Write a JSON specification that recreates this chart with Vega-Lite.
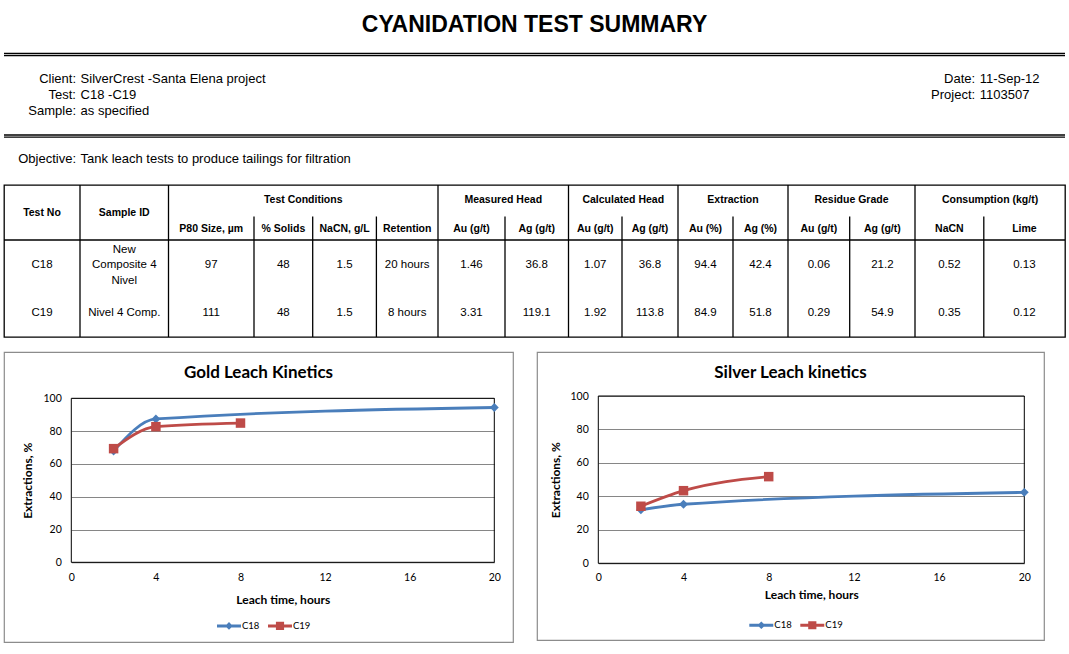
{
  "$schema": "https://vega.github.io/schema/vega-lite/v6.json",
  "padding": {"left": 2, "top": 0, "right": 0, "bottom": 0},
  "background": "#ffffff",
  "config": {"view": {"stroke": null}, "font": "Liberation Sans"},
  "resolve": {"scale": {"color": "independent"}, "legend": {"color": "independent"}},
  "datasets": {
    "docTitle": [{"text": "CYANIDATION TEST SUMMARY"}],
    "headerInfo": [
      {"side": "left", "line": 1, "label": "Client:", "value": "SilverCrest -Santa Elena project"},
      {"side": "left", "line": 2, "label": "Test:", "value": "C18 -C19"},
      {"side": "left", "line": 3, "label": "Sample:", "value": "as specified"},
      {"side": "right", "line": 1, "label": "Date:", "value": "11-Sep-12"},
      {"side": "right", "line": 2, "label": "Project:", "value": "1103507"},
      {"side": "left", "line": 6, "label": "Objective:", "value": "Tank leach tests to produce tailings for filtration"}
    ],
    "groups": [
      {"g": 0, "row": 0.5, "label": "Test No"},
      {"g": 1, "row": 0.5, "label": "Sample ID"},
      {"g": 2, "row": 0, "label": "Test Conditions"},
      {"g": 3, "row": 0, "label": "Measured Head"},
      {"g": 4, "row": 0, "label": "Calculated Head"},
      {"g": 5, "row": 0, "label": "Extraction"},
      {"g": 6, "row": 0, "label": "Residue Grade"},
      {"g": 7, "row": 0, "label": "Consumption (kg/t)"}
    ],
    "subheads": [
      {"col": 2, "row": 1, "label": "P80 Size, µm"},
      {"col": 3, "row": 1, "label": "% Solids"},
      {"col": 4, "row": 1, "label": "NaCN, g/L"},
      {"col": 5, "row": 1, "label": "Retention"},
      {"col": 6, "row": 1, "label": "Au (g/t)"},
      {"col": 7, "row": 1, "label": "Ag (g/t)"},
      {"col": 8, "row": 1, "label": "Au (g/t)"},
      {"col": 9, "row": 1, "label": "Ag (g/t)"},
      {"col": 10, "row": 1, "label": "Au (%)"},
      {"col": 11, "row": 1, "label": "Ag (%)"},
      {"col": 12, "row": 1, "label": "Au (g/t)"},
      {"col": 13, "row": 1, "label": "Ag (g/t)"},
      {"col": 14, "row": 1, "label": "NaCN"},
      {"col": 15, "row": 1, "label": "Lime"}
    ],
    "cells": [
      {"test": "C18", "row": 2, "col": 0, "v": "C18"},
      {"test": "C18", "row": 2, "col": 1, "v": "New\nComposite 4\nNivel"},
      {"test": "C18", "row": 2, "col": 2, "v": "97"},
      {"test": "C18", "row": 2, "col": 3, "v": "48"},
      {"test": "C18", "row": 2, "col": 4, "v": "1.5"},
      {"test": "C18", "row": 2, "col": 5, "v": "20 hours"},
      {"test": "C18", "row": 2, "col": 6, "v": "1.46"},
      {"test": "C18", "row": 2, "col": 7, "v": "36.8"},
      {"test": "C18", "row": 2, "col": 8, "v": "1.07"},
      {"test": "C18", "row": 2, "col": 9, "v": "36.8"},
      {"test": "C18", "row": 2, "col": 10, "v": "94.4"},
      {"test": "C18", "row": 2, "col": 11, "v": "42.4"},
      {"test": "C18", "row": 2, "col": 12, "v": "0.06"},
      {"test": "C18", "row": 2, "col": 13, "v": "21.2"},
      {"test": "C18", "row": 2, "col": 14, "v": "0.52"},
      {"test": "C18", "row": 2, "col": 15, "v": "0.13"},
      {"test": "C19", "row": 3, "col": 0, "v": "C19"},
      {"test": "C19", "row": 3, "col": 1, "v": "Nivel 4 Comp."},
      {"test": "C19", "row": 3, "col": 2, "v": "111"},
      {"test": "C19", "row": 3, "col": 3, "v": "48"},
      {"test": "C19", "row": 3, "col": 4, "v": "1.5"},
      {"test": "C19", "row": 3, "col": 5, "v": "8 hours"},
      {"test": "C19", "row": 3, "col": 6, "v": "3.31"},
      {"test": "C19", "row": 3, "col": 7, "v": "119.1"},
      {"test": "C19", "row": 3, "col": 8, "v": "1.92"},
      {"test": "C19", "row": 3, "col": 9, "v": "113.8"},
      {"test": "C19", "row": 3, "col": 10, "v": "84.9"},
      {"test": "C19", "row": 3, "col": 11, "v": "51.8"},
      {"test": "C19", "row": 3, "col": 12, "v": "0.29"},
      {"test": "C19", "row": 3, "col": 13, "v": "54.9"},
      {"test": "C19", "row": 3, "col": 14, "v": "0.35"},
      {"test": "C19", "row": 3, "col": 15, "v": "0.12"}
    ],
    "gold": [
      {"test": "C18", "t": 2, "e": 67.9},
      {"test": "C18", "t": 4, "e": 87.4},
      {"test": "C18", "t": 20, "e": 94.4},
      {"test": "C19", "t": 2, "e": 69.3},
      {"test": "C19", "t": 4, "e": 82.7},
      {"test": "C19", "t": 8, "e": 84.9}
    ],
    "silver": [
      {"test": "C18", "t": 2, "e": 32.0},
      {"test": "C18", "t": 4, "e": 35.3},
      {"test": "C18", "t": 20, "e": 42.4},
      {"test": "C19", "t": 2, "e": 34.1},
      {"test": "C19", "t": 4, "e": 43.4},
      {"test": "C19", "t": 8, "e": 51.8}
    ]
  },
  "vconcat": [
    {
      "spacing": 0,
      "vconcat": [
        {
          "width": 1061,
          "height": 183,
          "view": {"stroke": null},
          "layer": [
            {
              "data": {"name": "docTitle"},
              "mark": {"type": "text", "font": "Liberation Sans", "fontSize": 23, "fontWeight": "bold", "baseline": "middle", "color": "#000"},
              "encoding": {
                "y": {"datum": -2.4, "type": "quantitative", "scale": {"domain": [-3.9375, 7.5], "reverse": true, "nice": false, "zero": false}, "axis": null},
                "text": {"field": "text", "type": "nominal"}
              }
            },
            {
              "data": {"values": [{}]},
              "mark": {"type": "rule", "color": "#000", "strokeWidth": 1.3},
              "encoding": {"y": {"datum": -0.606, "type": "quantitative", "scale": {"domain": [-3.9375, 7.5], "reverse": true, "nice": false, "zero": false}, "axis": null}}
            },
            {
              "data": {"values": [{}]},
              "mark": {"type": "rule", "color": "#000", "strokeWidth": 1.3},
              "encoding": {"y": {"datum": -0.469, "type": "quantitative", "scale": {"domain": [-3.9375, 7.5], "reverse": true, "nice": false, "zero": false}, "axis": null}}
            },
            {
              "data": {"values": [{}]},
              "mark": {"type": "rule", "color": "#000", "strokeWidth": 1.3},
              "encoding": {"y": {"datum": 4.5, "type": "quantitative", "scale": {"domain": [-3.9375, 7.5], "reverse": true, "nice": false, "zero": false}, "axis": null}}
            },
            {
              "data": {"values": [{}]},
              "mark": {"type": "rule", "color": "#000", "strokeWidth": 1.3},
              "encoding": {"y": {"datum": 4.6375, "type": "quantitative", "scale": {"domain": [-3.9375, 7.5], "reverse": true, "nice": false, "zero": false}, "axis": null}}
            },
            {
              "data": {"name": "headerInfo"},
              "mark": {"type": "text", "align": "right", "dx": -2.3, "baseline": "middle", "font": "Liberation Sans", "fontSize": 13, "color": "#000"},
              "encoding": {
                "x": {"field": "side", "type": "nominal", "scale": {"type": "point", "domain": ["left", "right"], "range": [74.3, 973.5], "padding": 0}, "axis": null},
                "y": {"field": "line", "type": "quantitative", "scale": {"domain": [-3.9375, 7.5], "reverse": true, "nice": false, "zero": false}, "axis": null},
                "text": {"field": "label", "type": "nominal"}
              }
            },
            {
              "data": {"name": "headerInfo"},
              "mark": {"type": "text", "align": "left", "dx": 2.3, "baseline": "middle", "font": "Liberation Sans", "fontSize": 13, "color": "#000"},
              "encoding": {
                "x": {"field": "side", "type": "nominal", "scale": {"type": "point", "domain": ["left", "right"], "range": [74.3, 973.5], "padding": 0}, "axis": null},
                "y": {"field": "line", "type": "quantitative", "scale": {"domain": [-3.9375, 7.5], "reverse": true, "nice": false, "zero": false}, "axis": null},
                "text": {"field": "value", "type": "nominal"}
              }
            }
          ]
        },
        {
          "width": 1061,
          "height": 152,
          "view": {"stroke": "#000", "strokeWidth": 1.3},
          "resolve": {"scale": {"x": "independent"}, "axis": {"x": "independent"}},
          "layer": [
            {
              "data": {"name": "groups"},
              "mark": {"type": "text", "font": "Liberation Sans", "fontSize": 10.5, "fontWeight": "bold", "baseline": "middle", "color": "#000"},
              "encoding": {
                "x": {"field": "g", "type": "quantitative", "scale": {"domain": [0, 1, 2, 3, 4, 5, 6, 7], "range": [38, 120.25, 299.25, 499.25, 619.25, 729, 847.5, 986], "nice": false, "zero": false}, "axis": null},
                "y": {"field": "row", "type": "quantitative", "scale": {"domain": [0, 0.5, 1, 2, 3], "range": [15, 27.7, 43.5, 80, 128], "nice": false, "zero": false}, "axis": null},
                "text": {"field": "label", "type": "nominal"}
              }
            },
            {
              "data": {"name": "subheads"},
              "mark": {"type": "text", "font": "Liberation Sans", "fontSize": 10.5, "fontWeight": "bold", "baseline": "middle", "color": "#000"},
              "encoding": {
                "x": {"field": "col", "type": "quantitative", "scale": {"domain": [0, 1, 2, 3, 4, 5, 6, 7, 8, 9, 10, 11, 12, 13, 14, 15], "range": [38, 120.25, 207.25, 279.35, 340.55, 403.2, 467.5, 532.75, 591.25, 646, 701.5, 756.5, 814.85, 878.35, 945.4, 1020.4], "nice": false, "zero": false}, "axis": null},
                "y": {"field": "row", "type": "quantitative", "scale": {"domain": [0, 0.5, 1, 2, 3], "range": [15, 27.7, 43.5, 80, 128], "nice": false, "zero": false}, "axis": null},
                "text": {"field": "label", "type": "nominal"}
              }
            },
            {
              "data": {"name": "cells"},
              "transform": [{"filter": "indexof(datum.v, '\\n') < 0"}],
              "mark": {"type": "text", "font": "Liberation Sans", "fontSize": 11.5, "baseline": "middle", "color": "#000"},
              "encoding": {
                "x": {"field": "col", "type": "quantitative", "scale": {"domain": [0, 1, 2, 3, 4, 5, 6, 7, 8, 9, 10, 11, 12, 13, 14, 15], "range": [38, 120.25, 207.25, 279.35, 340.55, 403.2, 467.5, 532.75, 591.25, 646, 701.5, 756.5, 814.85, 878.35, 945.4, 1020.4], "nice": false, "zero": false}, "axis": null},
                "y": {"field": "row", "type": "quantitative", "scale": {"domain": [0, 0.5, 1, 2, 3], "range": [15, 27.7, 43.5, 80, 128], "nice": false, "zero": false}, "axis": null},
                "text": {"field": "v", "type": "nominal"}
              }
            },
            {
              "data": {"name": "cells"},
              "transform": [{"filter": "indexof(datum.v, '\\n') >= 0"}],
              "mark": {"type": "text", "font": "Liberation Sans", "fontSize": 11.5, "baseline": "middle", "lineBreak": "\n", "lineHeight": 15.5, "dy": -15.5, "color": "#000"},
              "encoding": {
                "x": {"field": "col", "type": "quantitative", "scale": {"domain": [0, 1, 2, 3, 4, 5, 6, 7, 8, 9, 10, 11, 12, 13, 14, 15], "range": [38, 120.25, 207.25, 279.35, 340.55, 403.2, 467.5, 532.75, 591.25, 646, 701.5, 756.5, 814.85, 878.35, 945.4, 1020.4], "nice": false, "zero": false}, "axis": null},
                "y": {"field": "row", "type": "quantitative", "scale": {"domain": [0, 0.5, 1, 2, 3], "range": [15, 27.7, 43.5, 80, 128], "nice": false, "zero": false}, "axis": null},
                "text": {"field": "v", "type": "nominal"}
              }
            },
            {
              "data": {"name": "groups"},
              "transform": [{"filter": "datum.g >= 1"}],
              "mark": {"type": "rule", "color": "#000", "strokeWidth": 1.3},
              "encoding": {
                "x": {"field": "g", "type": "quantitative", "scale": {"domain": [1, 2, 3, 4, 5, 6, 7], "range": [76, 164.5, 434, 564.5, 674, 784, 911], "nice": false, "zero": false}, "axis": null},
                "y": {"datum": -0.59, "type": "quantitative", "scale": {"domain": [0, 0.5, 1, 2, 3], "range": [15, 27.7, 43.5, 80, 128], "nice": false, "zero": false}, "axis": null},
                "y2": {"datum": 3.5}
              }
            },
            {
              "data": {"name": "subheads"},
              "transform": [{"filter": {"field": "col", "oneOf": [3, 4, 5, 7, 9, 11, 13, 15]}}],
              "mark": {"type": "rule", "color": "#000", "strokeWidth": 1.3},
              "encoding": {
                "x": {"field": "col", "type": "quantitative", "scale": {"domain": [3, 4, 5, 7, 9, 11, 13, 15], "range": [250, 308.7, 372.4, 501, 618, 729, 845.7, 979.8], "nice": false, "zero": false}, "axis": null},
                "y": {"datum": 0.62, "type": "quantitative", "scale": {"domain": [0, 0.5, 1, 2, 3], "range": [15, 27.7, 43.5, 80, 128], "nice": false, "zero": false}, "axis": null},
                "y2": {"datum": 3.5}
              }
            },
            {
              "data": {"values": [{}]},
              "mark": {"type": "rule", "color": "#000", "strokeWidth": 1.3},
              "encoding": {
                "y": {"datum": 1.315, "type": "quantitative", "scale": {"domain": [0, 0.5, 1, 2, 3], "range": [15, 27.7, 43.5, 80, 128], "nice": false, "zero": false}, "axis": null}
              }
            }
          ]
        }
      ]
    },
    {
      "spacing": 22,
      "resolve": {"scale": {"color": "independent"}, "legend": {"color": "independent"}},
      "hconcat": [
        {
          "width": 509,
          "height": 290,
          "view": {"stroke": "#8C8C8C", "strokeWidth": 1.2},
          "title": {"text": "Gold Leach Kinetics", "font": "Lato", "fontSize": 17, "fontWeight": "bold", "color": "#000", "anchor": "middle", "offset": -30},
          "layer": [
            {
              "data": {"values": [{}]},
              "mark": {"type": "rect", "filled": false, "color": "#000", "strokeWidth": 1},
              "encoding": {
                "x": {"datum": 0, "type": "quantitative", "scale": {"domain": [0, 20], "range": [67.3, 490.3], "nice": false, "zero": false},
                  "axis": {"values": [0, 4, 8, 12, 16, 20], "title": "Leach time, hours", "offset": -79.7, "grid": false, "ticks": false, "domain": true, "domainColor": "#868686", "labelFont": "Lato", "labelFontSize": 10.5, "labelColor": "#000", "labelPadding": 10, "labelFlush": false, "titleFont": "Lato", "titleFontSize": 12, "titleFontWeight": "bold", "titleColor": "#000", "titlePadding": 12}},
                "x2": {"datum": 20},
                "y": {"datum": 0, "type": "quantitative", "scale": {"domain": [0, 100], "range": [210.3, 46.3], "nice": false, "zero": false},
                  "axis": {"values": [0, 20, 40, 60, 80, 100], "title": "Extractions, %", "offset": -67.3, "grid": true, "gridColor": "#868686", "gridWidth": 1, "domain": false, "ticks": false, "labelFont": "Lato", "labelFontSize": 10.5, "labelColor": "#000", "labelPadding": 10, "titleFont": "Lato", "titleFontSize": 12, "titleFontWeight": "bold", "titleColor": "#000", "titlePadding": 9}},
                "y2": {"datum": 100}
              }
            },
            {
              "data": {"name": "gold"},
              "encoding": {
                "x": {"field": "t", "type": "quantitative", "scale": {"domain": [0, 20], "range": [67.3, 490.3], "nice": false, "zero": false},
                  "axis": {"values": [0, 4, 8, 12, 16, 20], "title": "Leach time, hours", "offset": -79.7, "grid": false, "ticks": false, "domain": true, "domainColor": "#868686", "labelFont": "Lato", "labelFontSize": 10.5, "labelColor": "#000", "labelPadding": 10, "labelFlush": false, "titleFont": "Lato", "titleFontSize": 12, "titleFontWeight": "bold", "titleColor": "#000", "titlePadding": 12}},
                "y": {"field": "e", "type": "quantitative", "scale": {"domain": [0, 100], "range": [210.3, 46.3], "nice": false, "zero": false},
                  "axis": {"values": [0, 20, 40, 60, 80, 100], "title": "Extractions, %", "offset": -67.3, "grid": true, "gridColor": "#868686", "gridWidth": 1, "domain": false, "ticks": false, "labelFont": "Lato", "labelFontSize": 10.5, "labelColor": "#000", "labelPadding": 10, "titleFont": "Lato", "titleFontSize": 12, "titleFontWeight": "bold", "titleColor": "#000", "titlePadding": 9}},
                "color": {"field": "test", "type": "nominal", "scale": {"domain": ["C18", "C19"], "range": ["#4A7EBB", "#BE4B48"]},
                  "legend": {"orient": "none", "legendX": 213, "legendY": 261.7, "direction": "horizontal", "title": null, "labelFont": "Lato", "labelFontSize": 9.5, "labelColor": "#000", "labelOffset": 1, "columnPadding": 8, "symbolSize": 576,
                    "encode": {"symbols": {"update": {
                      "shape": {"signal": "datum.value === 'C18' ? 'M-1,-0.12H1V0.12H-1Z M0,-0.32L0.32,0L0,0.32L-0.32,0Z' : 'M-1,-0.12H1V0.12H-1Z M-0.34,-0.34H0.34V0.34H-0.34Z'"},
                      "fill": {"signal": "datum.value === 'C18' ? '#4A7EBB' : '#BE4B48'"},
                      "stroke": {"value": "transparent"},
                      "strokeWidth": {"value": 0},
                      "opacity": {"value": 1},
                      "size": {"value": 576}
                    }}}}}
              },
              "layer": [
                {"mark": {"type": "line", "interpolate": "monotone", "strokeWidth": 2.8}},
                {"transform": [{"filter": "datum.test === 'C18'"}], "mark": {"type": "point", "shape": "diamond", "filled": true, "opacity": 1, "size": 80}},
                {"transform": [{"filter": "datum.test === 'C19'"}], "mark": {"type": "point", "shape": "square", "filled": true, "opacity": 1, "size": 90}}
              ]
            }
          ]
        },
        {
          "width": 507,
          "height": 288,
          "view": {"stroke": "#8C8C8C", "strokeWidth": 1.2},
          "title": {"text": "Silver Leach kinetics", "font": "Lato", "fontSize": 17, "fontWeight": "bold", "color": "#000", "anchor": "middle", "offset": -30},
          "layer": [
            {
              "data": {"values": [{}]},
              "mark": {"type": "rect", "filled": false, "color": "#000", "strokeWidth": 1},
              "encoding": {
                "x": {"datum": 0, "type": "quantitative", "scale": {"domain": [0, 20], "range": [61.3, 487.3], "nice": false, "zero": false},
                  "axis": {"values": [0, 4, 8, 12, 16, 20], "title": "Leach time, hours", "offset": -76.7, "grid": false, "ticks": false, "domain": true, "domainColor": "#868686", "labelFont": "Lato", "labelFontSize": 10.5, "labelColor": "#000", "labelPadding": 9, "labelFlush": false, "titleFont": "Lato", "titleFontSize": 12, "titleFontWeight": "bold", "titleColor": "#000", "titlePadding": 7}},
                "x2": {"datum": 20},
                "y": {"datum": 0, "type": "quantitative", "scale": {"domain": [0, 100], "range": [211.3, 44], "nice": false, "zero": false},
                  "axis": {"values": [0, 20, 40, 60, 80, 100], "title": "Extractions, %", "offset": -61.3, "grid": true, "gridColor": "#868686", "gridWidth": 1, "domain": false, "ticks": false, "labelFont": "Lato", "labelFontSize": 10.5, "labelColor": "#000", "labelPadding": 10, "titleFont": "Lato", "titleFontSize": 12, "titleFontWeight": "bold", "titleColor": "#000", "titlePadding": 8}},
                "y2": {"datum": 100}
              }
            },
            {
              "data": {"name": "silver"},
              "encoding": {
                "x": {"field": "t", "type": "quantitative", "scale": {"domain": [0, 20], "range": [61.3, 487.3], "nice": false, "zero": false},
                  "axis": {"values": [0, 4, 8, 12, 16, 20], "title": "Leach time, hours", "offset": -76.7, "grid": false, "ticks": false, "domain": true, "domainColor": "#868686", "labelFont": "Lato", "labelFontSize": 10.5, "labelColor": "#000", "labelPadding": 9, "labelFlush": false, "titleFont": "Lato", "titleFontSize": 12, "titleFontWeight": "bold", "titleColor": "#000", "titlePadding": 7}},
                "y": {"field": "e", "type": "quantitative", "scale": {"domain": [0, 100], "range": [211.3, 44], "nice": false, "zero": false},
                  "axis": {"values": [0, 20, 40, 60, 80, 100], "title": "Extractions, %", "offset": -61.3, "grid": true, "gridColor": "#868686", "gridWidth": 1, "domain": false, "ticks": false, "labelFont": "Lato", "labelFontSize": 10.5, "labelColor": "#000", "labelPadding": 10, "titleFont": "Lato", "titleFontSize": 12, "titleFontWeight": "bold", "titleColor": "#000", "titlePadding": 8}},
                "color": {"field": "test", "type": "nominal", "scale": {"domain": ["C18", "C19"], "range": ["#4A7EBB", "#BE4B48"]},
                  "legend": {"orient": "none", "legendX": 212.3, "legendY": 261, "direction": "horizontal", "title": null, "labelFont": "Lato", "labelFontSize": 9.5, "labelColor": "#000", "labelOffset": 1, "columnPadding": 8, "symbolSize": 576,
                    "encode": {"symbols": {"update": {
                      "shape": {"signal": "datum.value === 'C18' ? 'M-1,-0.12H1V0.12H-1Z M0,-0.32L0.32,0L0,0.32L-0.32,0Z' : 'M-1,-0.12H1V0.12H-1Z M-0.34,-0.34H0.34V0.34H-0.34Z'"},
                      "fill": {"signal": "datum.value === 'C18' ? '#4A7EBB' : '#BE4B48'"},
                      "stroke": {"value": "transparent"},
                      "strokeWidth": {"value": 0},
                      "opacity": {"value": 1},
                      "size": {"value": 576}
                    }}}}}
              },
              "layer": [
                {"mark": {"type": "line", "interpolate": "monotone", "strokeWidth": 2.8}},
                {"transform": [{"filter": "datum.test === 'C18'"}], "mark": {"type": "point", "shape": "diamond", "filled": true, "opacity": 1, "size": 80}},
                {"transform": [{"filter": "datum.test === 'C19'"}], "mark": {"type": "point", "shape": "square", "filled": true, "opacity": 1, "size": 90}}
              ]
            }
          ]
        }
      ]
    }
  ],
  "spacing": 12
}
